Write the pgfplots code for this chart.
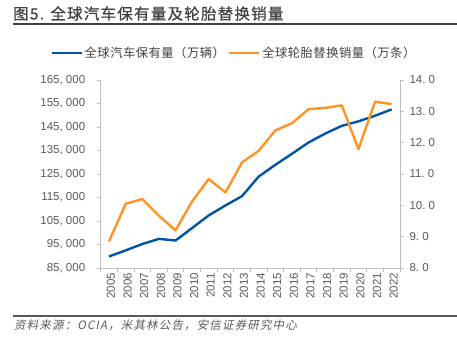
\documentclass[border=0pt]{standalone}
\usepackage{fontspec}
\setmainfont{Liberation Sans}
\newfontfamily\cjk[LetterSpace=4]{Noto Sans CJK SC}
\newfontfamily\cjktitle[FakeBold=0.6,LetterSpace=8]{Noto Sans CJK SC}
\newfontfamily\cjkfoot[FakeSlant=0.2,LetterSpace=10]{Noto Sans CJK SC}
\usepackage{pgfplots}
\pgfplotsset{compat=1.18}
\definecolor{cblue}{RGB}{0,84,166}
\definecolor{corange}{RGB}{255,148,36}
\definecolor{labgray}{RGB}{89,89,89}
\definecolor{axgray}{RGB}{191,191,191}
\definecolor{ruleg}{RGB}{64,64,64}
\begin{document}
\begin{tikzpicture}
\path[use as bounding box] (0,0) rectangle (457bp,341bp);
% title
\node[anchor=west,inner sep=0,text=ruleg] at (13bp,327.5bp) {\cjktitle\fontsize{15.5bp}{17bp}\selectfont 图5. 全球汽车保有量及轮胎替换销量};
\draw[ruleg,line width=1.6bp] (13bp,317bp) -- (457bp,317bp);
% footer
\draw[labgray,line width=2bp] (13bp,25.3bp) -- (457bp,25.3bp);
\node[anchor=west,inner sep=0,text=labgray] at (14bp,16bp) {\cjkfoot\fontsize{11.5bp}{13bp}\selectfont 资料来源：OCIA，米其林公告，安信证券研究中心};

\begin{axis}[
  at={(100.7bp,73bp)}, anchor=south west,
  scale only axis, width=299.3bp, height=188bp,
  xmin=2004.5, xmax=2022.5,
  ymin=85000, ymax=165000,
  axis x line*=bottom, axis y line*=left,
  axis line style={axgray, line width=0.8bp},
  every tick/.style={axgray, line width=0.8bp},
  tick align=outside,
  xtick={2005,...,2022},
  minor xtick={2004.5,2005.5,...,2022.5},
  major tick length=4bp, minor tick length=4bp,
  major x tick style={draw=none},
  ytick={85000,95000,...,165000},
  ytick pos=left,
  xticklabel style={rotate=90, anchor=east, inner sep=1bp, yshift=-2bp, font=\fontsize{11.5bp}{13bp}\selectfont, text=labgray,
    /pgf/number format/.cd, set thousands separator={}, assume math mode=true},
  yticklabel style={font=\fontsize{11.5bp}{13bp}\selectfont, text=labgray, xshift=-8bp,
    /pgf/number format/.cd, fixed, 1000 sep={,\ }, assume math mode=true},
  scaled y ticks=false,
  clip=false,
]
\addplot[cblue, line width=2.4bp, line join=round] coordinates {
(2005,89900) (2006,92500) (2007,95200) (2008,97400) (2009,96700)
(2010,102000) (2011,107400) (2012,111600) (2013,115600) (2014,123900)
(2015,128900) (2016,133600) (2017,138400) (2018,142200) (2019,145500)
(2020,147400) (2021,149800) (2022,152500)};
\end{axis}

\begin{axis}[
  at={(100.7bp,73bp)}, anchor=south west,
  scale only axis, width=299.3bp, height=188bp,
  xmin=2004.5, xmax=2022.5,
  ymin=8, ymax=14,
  axis x line=none,
  axis y line*=right,
  axis line style={axgray, line width=0.8bp},
  every tick/.style={axgray, line width=0.8bp},
  tick align=outside,
  major tick length=4bp,
  ytick={8,9,...,14},
  yticklabel style={font=\fontsize{11.5bp}{13bp}\selectfont, text=labgray, xshift=2bp,
    /pgf/number format/.cd, fixed, fixed zerofill, precision=1, dec sep={.\ }, assume math mode=true},
  clip=false,
  legend columns=2,
  legend style={draw=none, fill=none, inner sep=0pt, at={(-0.169,1.145)}, anchor=west,
    font=\cjk\fontsize{12.3bp}{14bp}\selectfont, text=ruleg,
    /tikz/every odd column/.append style={column sep=0bp},
    /tikz/every even column/.append style={column sep=1bp}},
  legend cell align=left,
  legend image code/.code={\draw[#1] (0bp,0bp) -- (30bp,0bp);},
]
\addlegendimage{cblue, line width=2.4bp}
\addlegendentry{全球汽车保有量（万辆）}
\addplot[corange, line width=2.4bp, line join=round] coordinates {
(2005,8.85) (2006,10.05) (2007,10.20) (2008,9.67) (2009,9.20)
(2010,10.13) (2011,10.84) (2012,10.41) (2013,11.37) (2014,11.74)
(2015,12.39) (2016,12.62) (2017,13.07) (2018,13.11) (2019,13.19)
(2020,11.79) (2021,13.31) (2022,13.23)};
\addlegendentry{全球轮胎替换销量（万条）}
\end{axis}
\end{tikzpicture}
\end{document}
